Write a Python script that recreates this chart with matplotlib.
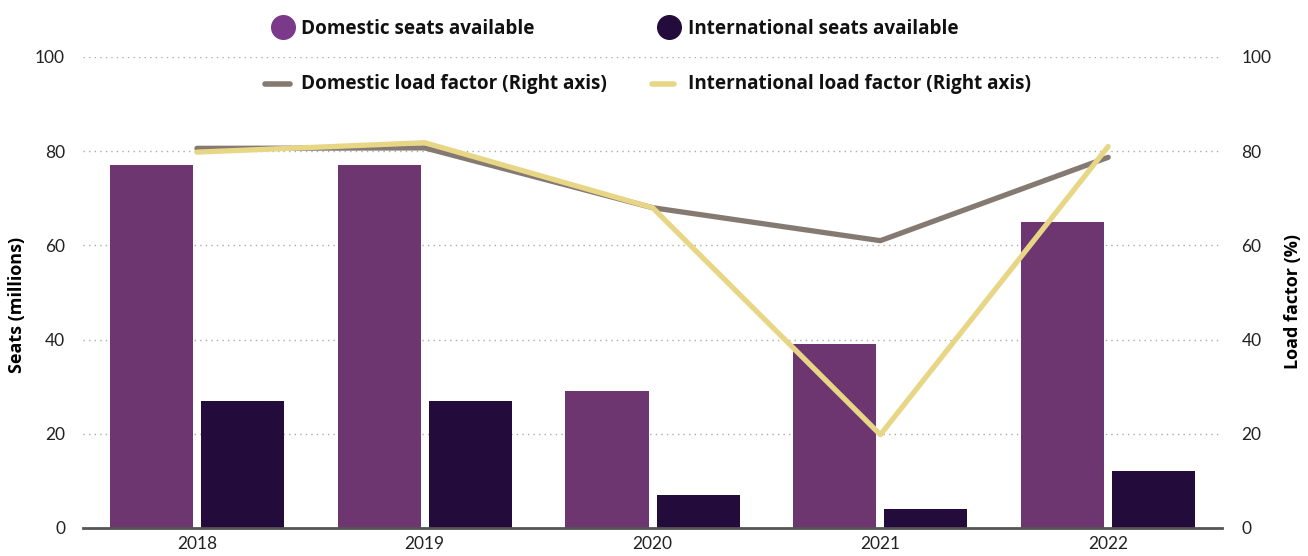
import matplotlib
matplotlib.use("Agg")
import matplotlib.pyplot as plt
from matplotlib.lines import Line2D
import numpy as np

plt.rcParams['font.family'] = ['Lato', 'DejaVu Sans']

# data
years = ['2018', '2019', '2020', '2021', '2022']
domestic_seats = [77, 77, 29, 39, 65]
international_seats = [27, 27, 7, 4, 12]
domestic_lf = [80.6, 80.7, 68, 61, 78.7]
international_lf = [79.8, 81.8, 68, 19.8, 81]

c_dom = '#6d3670'
c_int = '#230c3c'
c_dom_lf = '#857a72'
c_int_lf = '#e8d687'

fig = plt.figure(figsize=(13.08, 5.56), dpi=100)
ax = fig.add_axes([0.0635, 0.0504, 0.8708, 0.8471])
ax2 = ax.twinx()

x = np.arange(len(years))
w = 0.365
ax.bar(x - 0.2, domestic_seats, w, color=c_dom, zorder=2)
ax.bar(x + 0.2, international_seats, w, color=c_int, zorder=2)

ax.set_xlim(-0.5, len(years) - 0.5)
ax.set_ylim(0, 100)
ax.set_yticks([0, 20, 40, 60, 80, 100])
ax.set_xticks(x)
ax.set_xticklabels(years)
ax.yaxis.grid(True, linestyle=(0, (1, 3)), color='#aaaaaa', linewidth=1, zorder=0)
ax.set_axisbelow(True)
for s in ['top', 'left', 'right']:
    ax.spines[s].set_visible(False)
ax.spines['bottom'].set_color('#555555')
ax.spines['bottom'].set_linewidth(2)
ax.tick_params(axis='y', length=0, pad=13, labelsize=12.5, labelcolor='#222222')
ax.tick_params(axis='x', length=0, pad=6, labelsize=12.5, labelcolor='#222222')
ax.set_ylabel('Seats (millions)', fontsize=13, fontweight='bold', family=['Open Sans', 'DejaVu Sans'])
ax.yaxis.set_label_coords(-0.05, 0.473)

ax2.plot(x, domestic_lf, color=c_dom_lf, lw=3.8, solid_capstyle='round', solid_joinstyle='round', zorder=3)
ax2.plot(x, international_lf, color=c_int_lf, lw=3.8, solid_capstyle='round', solid_joinstyle='round', zorder=3)
ax2.set_ylim(0, 100)
ax2.set_yticks([0, 20, 40, 60, 80, 100])
for s in ['top', 'left', 'right', 'bottom']:
    ax2.spines[s].set_visible(False)
ax2.tick_params(axis='y', length=0, pad=14, labelsize=12.5, labelcolor='#222222')
ax2.set_ylabel('Load factor (%)', fontsize=13, fontweight='bold', family=['Open Sans', 'DejaVu Sans'])
ax2.yaxis.set_label_coords(1.054, 0.48)

# legend drawn by hand in figure coordinates
W, H = 1308.0, 556.0
def fx(px):
    return px / W
def fy(py):
    return 1 - py / H

fig.add_artist(Line2D([fx(283)], [fy(27)], marker='o', markersize=17, color='#7b3a89', linestyle='none'))
fig.add_artist(Line2D([fx(669)], [fy(27)], marker='o', markersize=17, color=c_int, linestyle='none'))
fig.add_artist(Line2D([fx(265), fx(290)], [fy(84), fy(84)], lw=4, color=c_dom_lf, solid_capstyle='round'))
fig.add_artist(Line2D([fx(652), fx(674)], [fy(84), fy(84)], lw=4, color=c_int_lf, solid_capstyle='round'))
lkw = dict(fontsize=13.6, fontweight='bold', va='center', ha='left', color='#111111',
           family=['Open Sans', 'DejaVu Sans'])
fig.text(fx(301), fy(29), 'Domestic seats available', **lkw)
fig.text(fx(688), fy(29), 'International seats available', **lkw)
fig.text(fx(301), fy(84), 'Domestic load factor (Right axis)', **lkw)
fig.text(fx(688), fy(84), 'International load factor (Right axis)', **lkw)

fig.savefig('out.png', dpi=100)
